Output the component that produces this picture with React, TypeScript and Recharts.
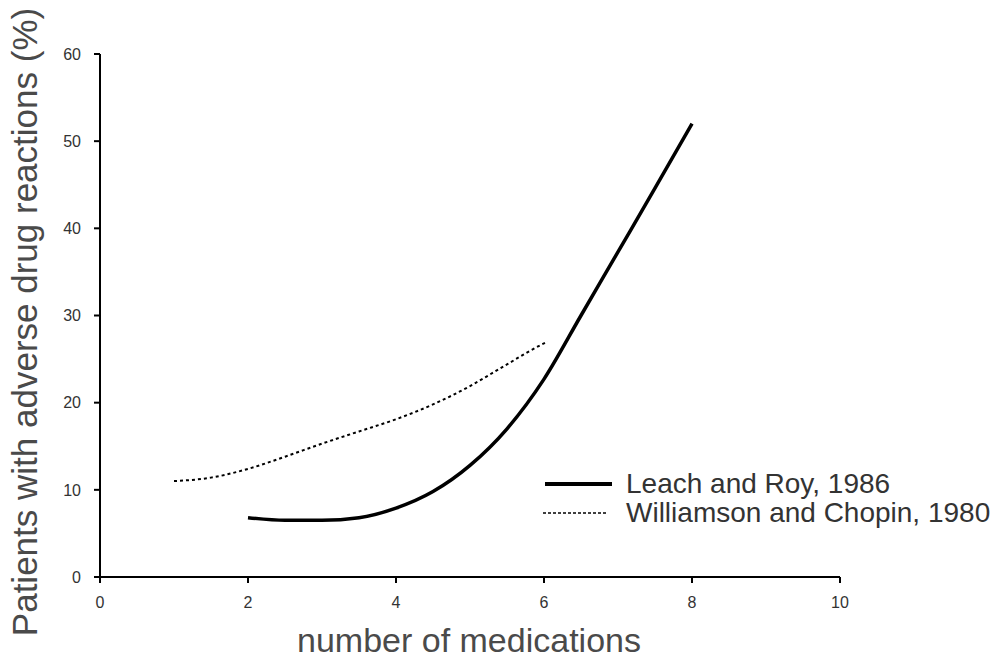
import React from 'react';
import { LineChart, Line, XAxis, YAxis, Legend } from 'recharts';

const leachX = [2, 2.5, 3, 3.5, 4, 4.5, 5, 5.5, 6, 6.5, 7, 7.5, 8];
const leachY = [6.8, 6.5, 6.5, 6.8, 7.9, 9.8, 12.8, 17, 22.7, 30.0, 37.3, 44.6, 52];
const willX = [1, 1.5, 2, 2.5, 3, 3.5, 4, 4.5, 5, 5.5, 6, 6.05];
const willY = [11, 11.4, 12.4, 13.8, 15.3, 16.7, 18.1, 19.8, 21.9, 24.4, 26.8, 27];
const xTicks = [0, 2, 4, 6, 8, 10];
const yTicks = [0, 10, 20, 30, 40, 50, 60];
const seriesNames = ['Leach and Roy, 1986', 'Williamson and Chopin, 1980'];
const xTitle = 'number of medications';
const yTitle = 'Patients with adverse drug reactions (%)';

const leachData = leachX.map((x, i) => ({ x, y: leachY[i] }));
const willData = willX.map((x, i) => ({ x, y: willY[i] }));

const FONT = '"Liberation Sans", Arial, sans-serif';

const renderYTitle = () => (
  <text x={37} y={322} transform="rotate(-90, 37, 322)" textAnchor="middle" fill="#4a4a4a" fontSize={35} fontFamily={FONT}>
    {yTitle}
  </text>
);

const renderXTitle = () => (
  <text x={469} y={652} textAnchor="middle" fill="#4a4a4a" fontSize={34} fontFamily={FONT}>
    {xTitle}
  </text>
);

const LegendContent = () => (
  <div style={{ fontFamily: FONT, fontSize: 28, color: '#333', lineHeight: '29px' }}>
    <div style={{ display: 'flex', alignItems: 'center', height: 29 }}>
      <svg width={83} height={10}>
        <line x1={2} y1={5} x2={69} y2={5} stroke="#000" strokeWidth={4} />
      </svg>
      <span>{seriesNames[0]}</span>
    </div>
    <div style={{ display: 'flex', alignItems: 'center', height: 29 }}>
      <svg width={83} height={10}>
        <line x1={0} y1={5} x2={65} y2={5} stroke="#000" strokeWidth={1.5} strokeDasharray="3 2" />
      </svg>
      <span>{seriesNames[1]}</span>
    </div>
  </div>
);

export default function App() {
  return (
    <div style={{ position: 'absolute', left: 0, top: 0, background: '#fff' }}>
      <LineChart width={1002} height={660} margin={{ top: 54, right: 162, bottom: 8, left: 10 }}>
        <XAxis
          type="number"
          dataKey="x"
          domain={[0, 10]}
          ticks={xTicks}
          allowDuplicatedCategory={false}
          height={75}
          tickSize={6}
          tickMargin={14}
          axisLine={{ stroke: '#000', strokeWidth: 2 }}
          tickLine={{ stroke: '#000', strokeWidth: 2 }}
          tick={{ fill: '#333', fontSize: 16, fontFamily: FONT }}
          label={{ content: renderXTitle }}
        />
        <YAxis
          type="number"
          domain={[0, 60]}
          ticks={yTicks}
          width={90}
          tickSize={6}
          tickMargin={13}
          axisLine={{ stroke: '#000', strokeWidth: 2 }}
          tickLine={{ stroke: '#000', strokeWidth: 2 }}
          tick={{ fill: '#333', fontSize: 16, fontFamily: FONT }}
          label={{ content: renderYTitle }}
        />
        <Line data={willData} dataKey="y" type="monotone" stroke="#000" strokeWidth={2} strokeDasharray="3 3" dot={false} isAnimationActive={false} />
        <Line data={leachData} dataKey="y" type="monotone" stroke="#000" strokeWidth={3.5} dot={false} isAnimationActive={false} />
        <Legend layout="horizontal" verticalAlign="middle" align="center" content={<LegendContent />} wrapperStyle={{ position: 'absolute', left: 543, top: 469, width: 459 }} />
      </LineChart>
    </div>
  );
}
